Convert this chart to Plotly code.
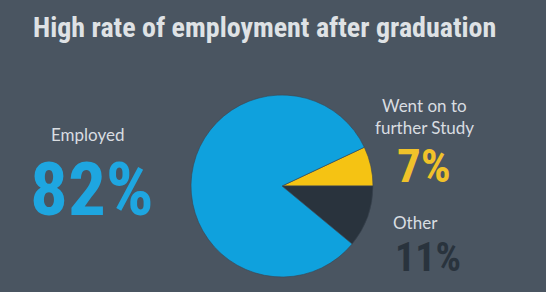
import plotly.graph_objects as go

labels = ["Went on to further Study", "Other", "Employed"]
values = [7, 11, 82]
colors = ["#f5c313", "#29333d", "#0fa1dd"]
title_text = "High rate of employment after graduation"

W, H = 546, 292
BG = "#4a5561"
NARROW = "Roboto Condensed, DejaVu Sans Condensed, sans-serif"
LATO = "Lato, sans-serif"

cx, cy, r = 282, 186, 91

fig = go.Figure(go.Pie(
    labels=labels, values=values, sort=False, direction="clockwise",
    rotation=90 - values[0] / 100 * 360,
    marker=dict(colors=colors, line=dict(color="#3a4550", width=0.6)),
    textinfo="none", hoverinfo="label+percent", showlegend=False,
    domain=dict(x=[(cx - r) / W, (cx + r) / W], y=[(H - cy - r) / H, (H - cy + r) / H]),
))

def px(x):
    return x / W

def py(y):
    return 1 - y / H

ann = []
def add(text, x, y, size, color, family, xanchor="center", bold=False):
    ann.append(dict(text=f"<b>{text}</b>" if bold else text, x=px(x), y=py(y),
                    xref="paper", yref="paper", showarrow=False,
                    xanchor=xanchor, yanchor="middle",
                    font=dict(size=size, color=color, family=family)))

add(title_text, 264, 28, 28, "#dfe2e5", NARROW, bold=True)
add("Employed", 88, 134, 17, "#d9dde1", LATO)
add(f"{values[2]}%", 92, 189, 75, "#1ea6e0", NARROW, bold=True)
add("Went on to", 424, 105, 17, "#d9dde1", LATO)
add("further Study", 424, 127, 17, "#d9dde1", LATO)
add(f"{values[0]}%", 424, 165, 47, "#f0c22a", NARROW, bold=True)
add("Other", 391, 222, 17, "#d9dde1", LATO, xanchor="left")
add(f"{values[1]}%", 393, 257, 40, "#29333d", NARROW, xanchor="left", bold=True)

fig.update_layout(
    width=W, height=H, margin=dict(l=0, r=0, t=0, b=0),
    paper_bgcolor=BG, plot_bgcolor=BG, annotations=ann,
)
fig.write_html("out.html")
